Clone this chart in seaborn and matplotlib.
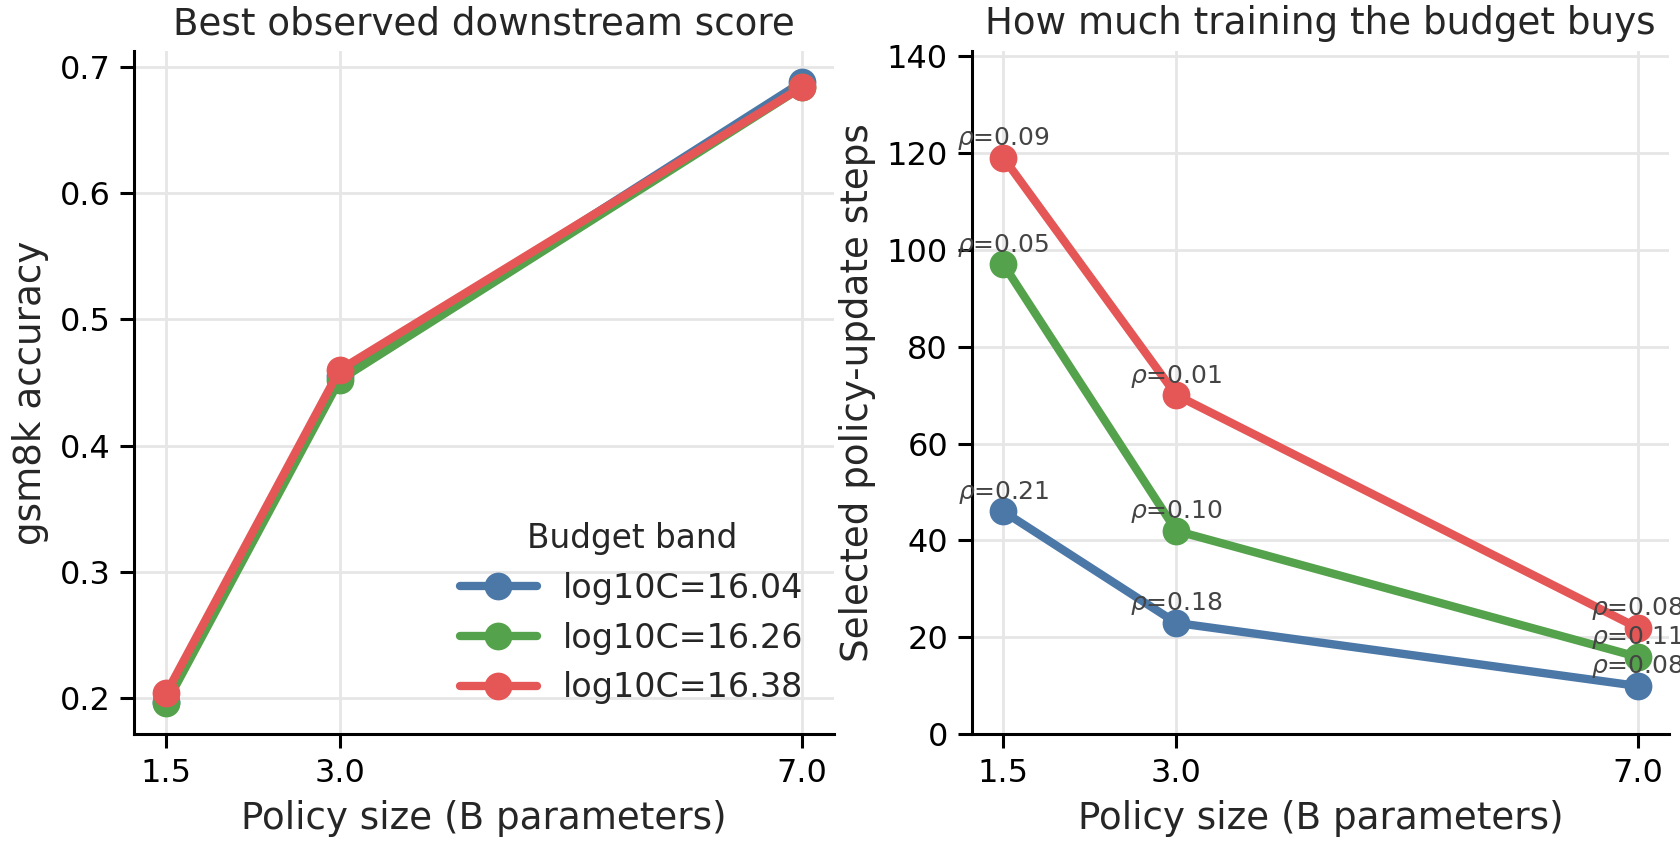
import matplotlib
matplotlib.use("Agg")
import matplotlib.pyplot as plt
import seaborn as sns
import pandas as pd

sizes = [1.5, 3.0, 7.0]
bands = ["log10C=16.04", "log10C=16.26", "log10C=16.38"]
acc_1604 = [0.197, 0.455, 0.688]
acc_1626 = [0.196, 0.452, 0.684]
acc_1638 = [0.204, 0.460, 0.684]
steps_1604 = [46, 23, 10]
steps_1626 = [97, 42, 16]
steps_1638 = [119, 70, 22]
rho_1604 = [0.21, 0.18, 0.08]
rho_1626 = [0.05, 0.10, 0.11]
rho_1638 = [0.09, 0.01, 0.08]
colors = ["#4C78A8", "#54A24B", "#E45756"]

acc = [acc_1604, acc_1626, acc_1638]
steps = [steps_1604, steps_1626, steps_1638]
rhos = [rho_1604, rho_1626, rho_1638]

rows = []
for b, a, s, r in zip(bands, acc, steps, rhos):
    for x, ai, si, ri in zip(sizes, a, s, r):
        rows.append({"size": x, "band": b, "acc": ai, "steps": si, "rho": ri})
df = pd.DataFrame(rows)

sns.set_theme(style="ticks")
plt.rcParams["font.family"] = ["DejaVu Sans"]
plt.rcParams["axes.edgecolor"] = "black"
plt.rcParams["xtick.color"] = "black"
plt.rcParams["ytick.color"] = "black"

fig = plt.figure(figsize=(8.405, 4.245), dpi=200)
ax1 = fig.add_axes([0.080, 0.135, 0.416, 0.805])
ax2 = fig.add_axes([0.578, 0.135, 0.415, 0.805])

palette = dict(zip(bands, colors))
for ax, ycol in [(ax1, "acc"), (ax2, "steps")]:
    sns.lineplot(data=df, x="size", y=ycol, hue="band", hue_order=bands,
                 palette=palette, marker="o", markersize=10, markeredgewidth=0,
                 linewidth=3, ax=ax, legend=(ax is ax1))
    ax.set_xticks(sizes)
    ax.set_xticklabels([f"{s:.1f}" for s in sizes])
    ax.grid(True, color="#e6e6e6", linewidth=1.0)
    ax.set_axisbelow(True)
    sns.despine(ax=ax)
    for sp in ["left", "bottom"]:
        ax.spines[sp].set_linewidth(1.1)
    ax.tick_params(axis="both", labelsize=11.5, length=5, width=1.1, direction="out")
    ax.set_xlabel("Policy size (B parameters)", fontsize=13.4)

ax1.set_ylabel("gsm8k accuracy", fontsize=13.4)
ax1.set_title("Best observed downstream score", fontsize=13.4)
ax1.set_yticks([0.2, 0.3, 0.4, 0.5, 0.6, 0.7])
leg = ax1.legend(title="Budget band", loc="lower right", frameon=False,
                 fontsize=12, title_fontsize=11.8, handlelength=2.3)

ax2.set_ylabel("Selected policy-update steps", fontsize=13.4)
ax2.set_title("How much training the budget buys", fontsize=13.4)
ax2.set_ylim(0, 141)
ax2.set_yticks(range(0, 141, 20))
for _, row in df.iterrows():
    ax2.annotate(f"$\\rho$={row['rho']:.2f}", (row["size"], row["steps"]),
                 xytext=(0, 2), textcoords="offset points", ha="center",
                 va="bottom", fontsize=9, color="#444444", annotation_clip=False)

fig.savefig("out.png", dpi=200)
